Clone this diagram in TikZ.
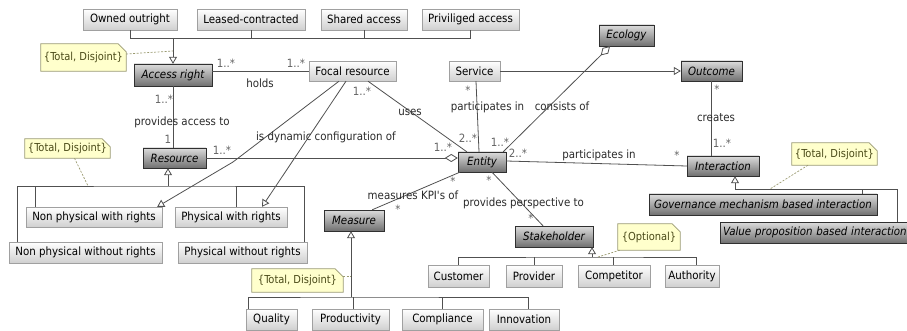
\documentclass[tikz,border=0pt]{standalone}
\usepackage{fontspec}
\setmainfont{DejaVu Sans Condensed}[ItalicFont={DejaVu Sans Condensed Oblique}]
\usetikzlibrary{arrows.meta,shadows}

\definecolor{linec}{HTML}{505050}
\definecolor{boxedge}{HTML}{A0A0A0}
\definecolor{boxlow}{HTML}{D0D0D0}
\definecolor{absedge}{HTML}{303030}
\definecolor{abstop}{HTML}{DCDCDC}
\definecolor{abslow}{HTML}{707070}
\definecolor{notefill}{HTML}{FFFFCC}
\definecolor{noteedge}{HTML}{9A9A70}
\definecolor{notetext}{HTML}{4A4A18}
\definecolor{multc}{HTML}{646464}
\definecolor{lblc}{HTML}{2A2A2A}

\tikzset{
  txt/.style={font=\fontsize{11.4}{13}\selectfont},
  sz/.style 2 args={minimum width=#1, minimum height=#2},
  boxshadow/.style={drop shadow={shadow xshift=1pt, shadow yshift=-1pt, fill=black!30, opacity=0.8}},
  cls/.style={txt, boxshadow, draw=boxedge, top color=white, bottom color=boxlow, inner sep=0pt, text=black},
  abs/.style={boxshadow, font=\fontsize{11.4}{13}\selectfont\itshape, draw=absedge, top color=abstop, bottom color=abslow, inner sep=0pt, text=black},
  notebox/.style={font=\fontsize{11}{12}\selectfont, fill=notefill, inner sep=0pt, text=notetext},
  noteline/.style={draw=noteedge, line width=0.7pt},
  ln/.style={draw=linec, line width=0.8pt},
  gen/.style={ln, -{Triangle[length=7pt, width=8pt, fill=white]}},
  agg/.style={ln, -{Diamond[length=13pt, width=8pt, fill=white]}},
  dsh/.style={draw=noteedge, dash pattern=on 2pt off 1.5pt, line width=0.7pt},
  mult/.style={txt, text=multc, inner sep=0pt},
  lbl/.style={txt, text=lblc, inner sep=0pt},
}

\begin{document}
\begin{tikzpicture}[x=1pt,y=-1pt]
\useasboundingbox (0,0) rectangle (907,331);
\clip (0,0) rectangle (907,331);

% ---- classes ----
\node[cls, sz={94pt}{21pt}] (own)    at (130,19.5)   {Owned outright};
\node[cls, sz={108pt}{21pt}] (lease) at (251,19.5)   {Leased-contracted};
\node[cls, sz={86pt}{21pt}] (shared) at (364,19.5)   {Shared access};
\node[cls, sz={97pt}{21pt}] (priv)   at (470.5,19.5) {Priviliged access};

\node[abs, sz={78pt}{22pt}] (acc)    at (173,75)     {Access right};
\node[cls, sz={87pt}{20pt}] (focal)  at (352.5,71)   {Focal resource};
\node[cls, sz={51pt}{20pt}] (service) at (474.5,71)  {Service};
\node[abs, sz={61pt}{20pt}] (outcome) at (711.5,71)  {Outcome};
\node[abs, sz={55pt}{21pt}] (ecology) at (626.5,35.5) {Ecology};

\node[abs, sz={63pt}{20pt}] (resource) at (174.5,158) {Resource};
\node[abs, sz={48pt}{20pt}] (entity)   at (482,162)   {Entity};
\node[abs, sz={72pt}{20pt}] (inter)    at (723,166)   {Interaction};

\node[cls, sz={136pt}{20pt}] (npwr)  at (94,217)     {Non physical with rights};
\node[cls, sz={112pt}{20pt}] (pwr)   at (231,217)    {Physical with rights};
\node[cls, sz={153pt}{21pt}] (npwor) at (85.5,252.5) {Non physical without rights};
\node[cls, sz={129pt}{21pt}] (pwor)  at (242.5,252.5) {Physical without rights};

\node[abs, sz={60pt}{21pt}] (measure) at (354,220.5) {Measure};
\node[abs, sz={78pt}{21pt}] (stake)   at (554,236.5) {Stakeholder};

\node[cls, sz={61pt}{22pt}] (customer)   at (458.5,276) {Customer};
\node[cls, sz={56pt}{22pt}] (provider)   at (534,276)   {Provider};
\node[cls, sz={72pt}{22pt}] (competitor) at (614,276)   {Competitor};
\node[cls, sz={54pt}{22pt}] (authority)  at (692,276)   {Authority};

\node[cls, sz={51pt}{21pt}] (quality)      at (271.5,319.5) {Quality};
\node[cls, sz={77pt}{21pt}] (productivity) at (350.5,319.5) {Productivity};
\node[cls, sz={81pt}{21pt}] (compliance)   at (442.5,319.5) {Compliance};
\node[cls, sz={70pt}{21pt}] (innovation)   at (524,319.5)   {Innovation};

\node[abs, sz={228pt}{21pt}] (gov)   at (763,204.5) {Governance mechanism based interaction};
\node[abs, sz={209pt}{21pt}, text width=203pt, align=left] (value) at (824.5,232.5) {Value proposition based interaction};

% ---- notes ----
\node[notebox, sz={85pt}{27pt}] (note1) at (83.5,57.5)  {\{Total, Disjoint\}};
\node[notebox, sz={85pt}{19pt}] (note2) at (67.5,148.5) {\{Total, Disjoint\}};
\node[notebox, sz={91pt}{23pt}] (note3) at (297.5,280.5) {\{Total, Disjoint\}};
\node[notebox, sz={85pt}{22pt}] (note4) at (834.5,154)  {\{Total, Disjoint\}};
\node[notebox, sz={62pt}{26pt}] (note5) at (649,237)    {\{Optional\}};
\foreach \n in {note1,note2,note3,note4,note5}{
  \fill[white] ([xshift=-8pt]\n.north east) -- (\n.north east) -- ([yshift=-8pt]\n.north east) -- cycle;
  \draw[noteline] (\n.north west) -- ([xshift=-8pt]\n.north east) -- ([yshift=-8pt]\n.north east)
        -- (\n.south east) -- (\n.south west) -- cycle;
}

% ---- generalisation trees ----
\coordinate (accbar) at (173,38);
\draw[ln] (own.south) |- (priv.south |- accbar) -- (priv.south);
\draw[ln] (lease.south) -- (lease.south |- accbar);
\draw[ln] (shared.south) -- (shared.south |- accbar);
\draw[gen] (accbar) -- (acc.north);

\coordinate (resbar) at (168,186);
\draw[gen] (resbar) -- (resbar |- resource.south);
\draw[ln] ([xshift=9pt]npwor.north west) |- (resbar) -| ([xshift=-3pt]pwor.north east);
\draw[ln] ([xshift=10pt]npwr.north west) -- ([xshift=10pt]npwr.north west |- resbar);
\draw[ln] ([xshift=5pt]pwr.north) -- ([xshift=5pt]pwr.north |- resbar);

\coordinate (msbar) at (351,297);
\draw[gen] (msbar) -- (msbar |- measure.south);
\draw[ln] ([xshift=3pt]quality.north west) |- (msbar) -| ([xshift=4pt]innovation.north);
\draw[ln] ([xshift=2.5pt]productivity.north) -- ([xshift=2.5pt]productivity.north |- msbar);
\draw[ln] (compliance.north) -- (compliance.north |- msbar);

\coordinate (stbar) at (592,257);
\draw[gen] (stbar) -- (stbar |- stake.south);
\draw[ln] (customer.north) |- (stbar) -| ([xshift=4pt]authority.north);
\draw[ln] (provider.north) -- (provider.north |- stbar);
\draw[ln] ([xshift=-1pt]competitor.north) -- ([xshift=-1pt]competitor.north |- stbar);

\coordinate (inbar) at (735,189);
\draw[gen] (inbar) -- (inbar |- inter.south);
\draw[ln] (inbar) -| ([xshift=178pt]value.north west);
\draw[ln] ([xshift=-15pt]gov.north east) -- ([xshift=-15pt]gov.north east |- inbar);

% ---- associations ----
\draw[ln] (acc.east |- focal.west) -- (focal.west);
\draw[ln] (acc.south) -- (acc.south |- resource.north);
\draw[agg] (resource.east) -- (entity.west |- resource.east);
\draw[ln] ([xshift=15.5pt]focal.south) -- ([xshift=9pt]entity.north west);
\draw[ln] ([xshift=1.5pt]service.south) -- ([xshift=-3pt]entity.north);
\draw[agg] ([xshift=-3pt]entity.north east) -- ([xshift=-16.5pt]ecology.south);
\draw[gen] (service.east) -- (outcome.west);
\draw[ln] (outcome.south) -- (outcome.south |- inter.north);
\draw[ln] ([yshift=1pt]entity.east) -- (inter.west);
\draw[ln] ([xshift=2pt]entity.south west) -- ([xshift=-12pt]measure.north east);
\draw[ln] ([xshift=10pt]entity.south) -- ([xshift=-11pt]stake.north);
\coordinate (dcbend) at (233,162);
\draw[gen] ([xshift=-13.5pt]focal.south) -- (dcbend) -- ([xshift=-5pt]npwr.north east);
\draw[gen] ([xshift=-6.5pt]focal.south) -- ([xshift=31pt]pwr.north);

% ---- note anchors ----
\coordinate (n1end) at (173,51);
\coordinate (n2end) at (88,186);
\coordinate (n3end) at (351,276);
\coordinate (n4end) at (770,189);
\coordinate (n5end) at (598,257);
\draw[dsh] ([yshift=3.5pt]note1.east) -- (n1end);
\draw[dsh] ([xshift=7pt]note2.south) -- (n2end);
\draw[dsh] ([yshift=4.5pt]note3.east) -- (n3end);
\draw[dsh] ([xshift=-26.5pt]note4.south) -- (n4end);
\draw[dsh] ([xshift=2pt]note5.south west) -- (n5end);

% ---- multiplicities and role names ----
\node[mult] (m1) at (226,63)  {1..*};
\node[mult] (m2) at (296,63)  {1..*};
\node[lbl]  (l1) at (260,83)  {holds};
\node[mult] (m3) at (164,99)  {1..*};
\node[lbl]  (l2) at (182,122) {provides access to};
\node[mult] (m4) at (168,139) {1};
\node[mult] (m5) at (222,150) {1..*};
\node[mult] (m6) at (443,147) {1..*};
\node[lbl]  (l3) at (326,137) {is dynamic configuration of};
\node[mult] (m7) at (362,91)  {1..*};
\node[lbl]  (l4) at (410,112) {uses};
\node[mult] (m8) at (468,90)  {*};
\node[lbl]  (l5) at (487.5,107) {participates in};
\node[lbl]  (l6) at (562,106) {consists of};
\node[mult] (m9) at (468,138) {2..*};
\node[mult] (m10) at (500,142) {1..*};
\node[mult] (m11) at (518,153) {2..*};
\node[lbl]  (l7) at (599,155) {participates in};
\node[mult] (m12) at (677,155) {*};
\node[mult] (m13) at (717,89)  {*};
\node[lbl]  (l8) at (716,118) {creates};
\node[mult] (m14) at (722,143) {1..*};
\node[mult] (m15) at (453,181) {*};
\node[lbl]  (l9) at (413,195) {measures KPI\textquotesingle s of};
\node[mult] (m16) at (398,209) {*};
\node[mult] (m17) at (489,180) {*};
\node[lbl]  (l10) at (523.5,203) {provides perspective to};
\node[mult] (m18) at (531,218) {*};
\end{tikzpicture}
\end{document}
